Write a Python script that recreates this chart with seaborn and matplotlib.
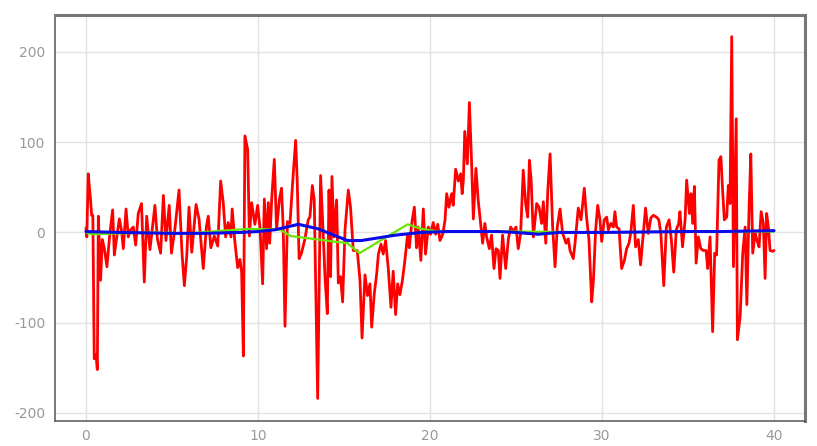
import numpy as np
import pandas as pd
import matplotlib
matplotlib.use("Agg")
import matplotlib.pyplot as plt
import seaborn as sns

# ---------------- data ----------------
red_x = [0.00, 0.05, 0.13, 0.25, 0.33, 0.40, 0.48, 0.58, 0.66, 0.72, 0.85, 0.95, 1.07, 1.22, 1.37,
         1.55, 1.65, 1.74, 1.94, 2.07, 2.17, 2.33, 2.46, 2.56, 2.75, 2.89, 3.04, 3.23, 3.39, 3.53,
         3.72, 4.01, 4.15, 4.34, 4.50, 4.65, 4.84, 4.97, 5.17, 5.41,
         5.58, 5.72, 5.86, 5.99, 6.15, 6.40, 6.57, 6.82, 7.00, 7.11, 7.26, 7.46, 7.66, 7.83, 7.98,
         8.12, 8.27, 8.43, 8.50, 8.66, 8.82, 8.95, 9.05, 9.15, 9.24, 9.40, 9.50, 9.63, 9.82, 9.98,
         10.12, 10.27, 10.37, 10.50, 10.60, 10.68, 10.80, 10.95,
         11.08, 11.24, 11.37, 11.47, 11.57, 11.71, 11.86, 12.05, 12.19, 12.28, 12.39, 12.53, 12.72,
         12.92, 13.02, 13.16, 13.27, 13.47, 13.64, 13.80, 13.90, 14.03, 14.13, 14.22, 14.30, 14.42,
         14.57, 14.67, 14.80, 14.92, 15.06, 15.25, 15.38, 15.54, 15.77, 15.93, 16.05, 16.22, 16.37,
         16.51, 16.61, 16.76, 16.90, 17.00, 17.15, 17.28, 17.42, 17.57, 17.73, 17.86, 18.00, 18.12,
         18.25, 18.39, 18.54, 18.70, 18.80, 18.93, 19.09, 19.22, 19.31, 19.47, 19.61, 19.74, 19.90,
         20.03, 20.19, 20.33, 20.45, 20.58, 20.74, 20.87, 20.97, 21.10, 21.26, 21.35, 21.49, 21.65,
         21.78, 21.87, 21.94, 22.02, 22.17, 22.29, 22.42, 22.52, 22.67, 22.80, 22.94, 23.06, 23.19,
         23.29, 23.45, 23.58, 23.72, 23.84, 23.97, 24.07, 24.22, 24.40, 24.55, 24.69, 24.84, 25.00,
         25.13, 25.27, 25.42, 25.56, 25.68, 25.78, 25.88, 26.01, 26.20, 26.34, 26.49, 26.59, 26.73,
         26.85, 26.98, 27.13, 27.27, 27.40, 27.56, 27.71, 27.91, 28.04, 28.14, 28.33, 28.43, 28.62,
         28.78, 28.97, 29.10, 29.24, 29.40, 29.50, 29.63, 29.75, 29.88, 29.98, 30.13, 30.27, 30.37,
         30.52, 30.66, 30.75, 30.85, 30.99, 31.14, 31.30, 31.43, 31.57, 31.68, 31.82, 31.95, 32.11,
         32.24, 32.40, 32.53, 32.69, 32.84, 32.98, 33.17, 33.30, 33.42, 33.51, 33.59, 33.74, 33.90,
         34.03, 34.17, 34.32, 34.46, 34.53, 34.68, 34.83, 34.92, 35.08, 35.17, 35.27, 35.37, 35.47,
         35.60, 35.74, 35.89, 36.05, 36.14, 36.28, 36.43, 36.55, 36.66, 36.80, 36.91, 37.01, 37.11,
         37.25, 37.34, 37.44, 37.54, 37.64, 37.80, 37.87, 38.03, 38.18, 38.32, 38.42, 38.55, 38.65,
         38.76, 38.90, 39.00, 39.13, 39.25, 39.38, 39.48, 39.57, 39.67, 39.77, 39.92, 40.00]
red_y = [5, -5, 65, 40, 19, 19, -140, -135, -152, 18, -53, -8, -18, -38, -5,
         25, -25, -12, 15, 2, -18, 26, -5, 2, 6, -14, 21, 32, -55, 18,
         -19, 30, -7, -23, 41, -9, 30, -23, 4, 47,
         -22, -59, -26, 28, -22, 31, 15, -40, 6, 18, -17, -4, -15, 57, 33,
         -5, 11, -5, 26, -11, -39, -30, -44, -137, 107, 92, -4, 33, 9, 30,
         4, -57, 37, -18, 33, -12, 38, 81,
         3, 36, 49, 3, -104, 12, 10, 65, 102, 58, -29, -23, -8,
         14, 17, 52, 36, -184, 63, -5, -51, -90, 47, -49, 62, -5,
         36, -56, -49, -77, 3, 47, 28, -20, -20, -53, -117, -47, -70,
         -57, -105, -68, -46, -24, -13, -24, -9, -39, -83, -43, -91, -57,
         -69, -54, -31, -2, -17, 9, 28, -17, 6, -31, 26, -24, 6,
         -2, 11, -2, 9, -9, -2, 13, 43, 28, 43, 30, 70, 57,
         65, 43, 58, 112, 76, 144, 76, 15, 71, 36, 10, -12, 10,
         -5, -18, -3, -40, -18, -20, -51, -3, -40, -8, 6, 1, 6,
         -18, -1, 69, 32, 17, 80, 58, -5, 32, 28, 10, 34, -12,
         47, 87, 6, -38, 6, 26, -1, -12, -7, -20, -29, -12, 27,
         14, 49, 17, -8, -77, -53, 3, 30, 14, -10, 14, 17, 3,
         10, 6, 23, 6, 4, -40, -31, -18, -12, 1, 30, -16, -8,
         -36, -1, 27, -1, 16, 19, 17, 14, -1, -31, -59, 6, 14,
         -8, -44, 3, 10, 23, -16, 14, 58, 21, 43, 10, 51, -34,
         -5, -18, -20, -20, -40, -5, -110, -23, -25, 80, 84, 47, 14,
         17, 52, 32, 217, -38, 126, -119, -93, -23, 6, -80, 28, 87,
         -23, -1, -8, -16, 23, 10, -51, 21, 6, -20, -21, -20]

green_x = [0, 0.3, 2, 4, 6, 8, 9.5, 11.3, 11.9, 15.2, 15.9, 18.7, 19.5, 20.5, 25, 30, 35, 40]
green_y = [0, -2, -1, 0, -1, 2, 4, 3, -4, -12, -23, 9, 4, 1, 1, 0, 1, 1]

blue_x = [0, 2, 5, 7, 9, 10, 11, 12.35, 13.5, 15.2, 16, 17, 18, 19.5, 21, 24, 25, 26.3, 27.5, 30, 35, 37, 40]
blue_y = [1, 0, -1, -1, 0, 1, 3, 9, 4, -9, -9, -6, -3, 0, 1, 1, 0, -2, 0, 0, 1, 1, 2]

x_ticks = [0, 10, 20, 30, 40]
y_ticks = [-200, -100, 0, 100, 200]

# ---------------- plotting ----------------
sns.set_style("white")
plt.rcParams['font.family'] = ['DejaVu Sans']

fig = plt.figure(figsize=(8.17, 4.46), dpi=100)
ax = fig.add_axes([55 / 817, 1 - 421 / 446, 750 / 817, 406 / 446])

red_df = pd.DataFrame({"x": red_x, "y": red_y})
green_df = pd.DataFrame({"x": green_x, "y": green_y})
blue_df = pd.DataFrame({"x": blue_x, "y": blue_y})

sns.lineplot(data=red_df, x="x", y="y", ax=ax, color="#ff0000", linewidth=2.0,
             estimator=None, sort=False, zorder=3)
sns.lineplot(data=green_df, x="x", y="y", ax=ax, color="#66e600", linewidth=1.6,
             estimator=None, sort=False, zorder=4)
sns.lineplot(data=blue_df, x="x", y="y", ax=ax, color="#0a0ae6", linewidth=2.2,
             estimator=None, sort=False, zorder=5)

ax.set_xlim(-1.8, 41.8)
ax.set_ylim(-209, 241)
ax.set_xticks(x_ticks)
ax.set_yticks(y_ticks)
ax.set_xticklabels([str(t) for t in x_ticks])
ax.set_yticklabels([str(t) for t in y_ticks])
ax.set_xlabel("")
ax.set_ylabel("")

ax.grid(True, color="#e2e2e2", linewidth=1.0)
ax.set_axisbelow(True)
ax.tick_params(axis="both", length=0, labelsize=10, labelcolor="#999999")
ax.tick_params(axis="y", pad=7)
ax.tick_params(axis="x", pad=6)

ax.spines["top"].set_color("#777777")
ax.spines["top"].set_linewidth(2.2)
ax.spines["right"].set_color("#777777")
ax.spines["right"].set_linewidth(2.2)
ax.spines["left"].set_color("#555555")
ax.spines["left"].set_linewidth(1.1)
ax.spines["bottom"].set_color("#555555")
ax.spines["bottom"].set_linewidth(1.1)

fig.savefig("out.png", dpi=100)
